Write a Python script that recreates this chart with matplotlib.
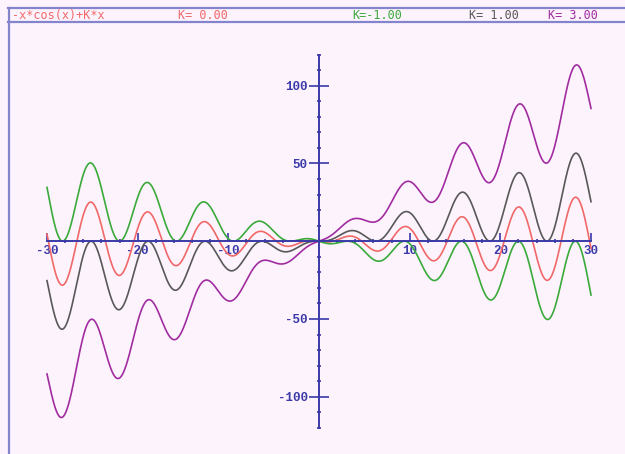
"""
Recreate the -x*cos(x)+K*x family plot (four K values) on a centred axis.
"""

import numpy as np
import matplotlib
matplotlib.use("Agg")
import matplotlib.pyplot as plt
from matplotlib.lines import Line2D
from matplotlib.ticker import FixedLocator

# ---------------------------------------------------------------------------
# Data: the curve family named in the chart header, one curve per K
# ---------------------------------------------------------------------------
expr_label = "-x*cos(x)+K*x"
k_values   = [0.0, -1.0, 1.0, 3.0]
k_labels   = ["K= 0.00", "K=-1.00", "K= 1.00", "K= 3.00"]
x_range    = (-30, 30)
x_ticks    = [-30, -20, -10, 10, 20, 30]
y_ticks    = [-100, -50, 50, 100]

colors     = ["#f06868", "#3aaa3a", "#585858", "#a02ca0"]
BG         = "#fdf3fd"
NAVY       = "#3a3aa8"
FRAME      = "#8484cc"

W, H = 625, 454


def px_x(p):
    return p / W


def px_y(p):
    return 1 - p / H


fig = plt.figure(figsize=(W / 100, H / 100), dpi=100)
fig.patch.set_facecolor(BG)
ax = fig.add_axes([0, 0, 1, 1])
ax.set_facecolor(BG)

# pixel mapping: x=0 at px 319, 9.067 px/unit ; y=0 at px 241.2, 1.555 px/unit
ax.set_xlim((0 - 319) / 9.067, (W - 319) / 9.067)
ax.set_ylim(-(H - 241.2) / 1.555, 241.2 / 1.555)

x = np.linspace(x_range[0], x_range[1], 2000)
for k, c in zip(k_values, colors):
    ax.plot(x, -x * np.cos(x) + k * x, color=c, lw=1.2, zorder=3)

# centred axes
for side in ("top", "right"):
    ax.spines[side].set_visible(False)
for side in ("left", "bottom"):
    ax.spines[side].set_position(("data", 0))
    ax.spines[side].set_color(NAVY)
    ax.spines[side].set_linewidth(1.4)
    ax.spines[side].set_zorder(4)
ax.spines["bottom"].set_bounds(-30, 30)
ax.spines["left"].set_bounds(-120, 120)

ax.set_xticks(x_ticks)
ax.set_yticks(y_ticks)
ax.xaxis.set_minor_locator(FixedLocator(np.arange(-28, 29, 2)))
ax.yaxis.set_minor_locator(FixedLocator(np.arange(-120, 121, 10)))
lbl_font = dict(family="Liberation Mono", weight="bold", size=9)
ax.set_xticklabels([str(v) for v in x_ticks], **lbl_font, color=NAVY)
ax.set_yticklabels([str(v) for v in y_ticks], **lbl_font, color=NAVY)
ax.tick_params(axis="x", which="major", direction="in", length=6, width=1.2,
               color=NAVY, pad=3)
ax.tick_params(axis="y", which="major", direction="inout", length=14, width=1.2,
               color=NAVY, pad=1)
ax.tick_params(which="minor", direction="inout", length=3.5, width=1.2,
               color=NAVY)

# header bar and left frame line
for yy in (8, 22):
    fig.add_artist(Line2D([px_x(8), 1], [px_y(yy), px_y(yy)],
                          color=FRAME, lw=1.6))
fig.add_artist(Line2D([px_x(8.5), px_x(8.5)], [px_y(8), 0],
                      color=FRAME, lw=1.6))

hdr_font = dict(family="DejaVu Sans Mono", size=8.5, va="center", ha="left")
fig.text(px_x(12), px_y(15.5), expr_label, color=colors[0], **hdr_font)
for lab, c, xp in zip(k_labels, colors, [178, 352, 469, 548]):
    fig.text(px_x(xp), px_y(15.5), lab, color=c, **hdr_font)

fig.savefig("out.png", dpi=100, facecolor=BG)
